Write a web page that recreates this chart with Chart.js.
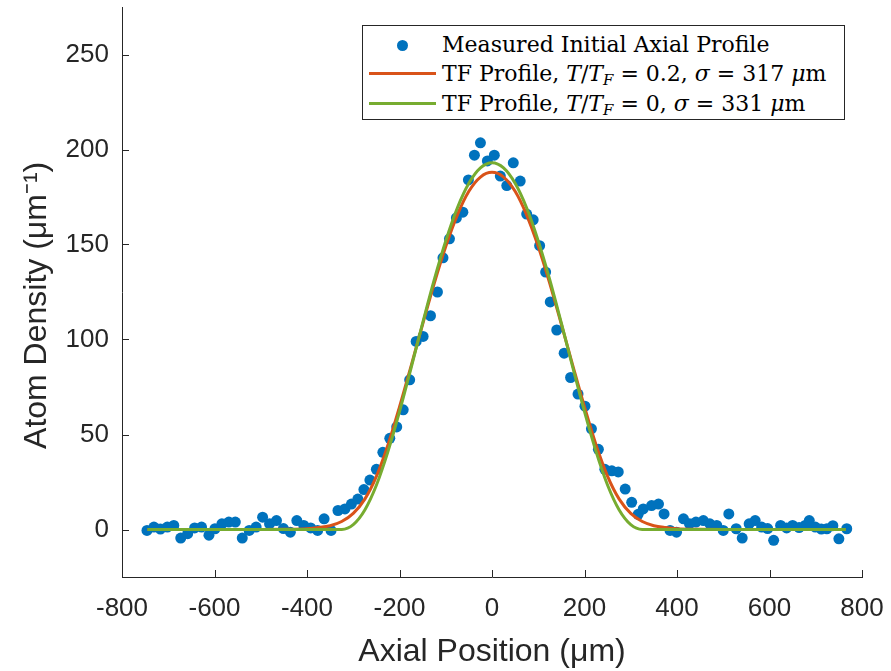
<!DOCTYPE html>
<html><head><meta charset="utf-8">
<script src="https://cdn.jsdelivr.net/npm/chart.js@4.4.1/dist/chart.umd.min.js"></script>
<style>
html,body{margin:0;padding:0;background:#fff;}
#wrap{position:relative;width:891px;height:671px;}
#legend{position:absolute;left:362px;top:25px;width:483px;height:95px;border:1px solid #262626;background:#fff;box-sizing:border-box;font-family:"DejaVu Serif",serif;font-size:22px;color:#000;}
.item{position:absolute;left:0;width:100%;height:30px;}
.dot{position:absolute;left:34px;top:10px;width:11px;height:11px;border-radius:50%;background:#0072BD;}
.ln{position:absolute;left:6px;top:13px;width:67px;height:3px;}
.txt{position:absolute;left:79px;top:0;line-height:30px;white-space:nowrap;}
sub{font-size:68%;vertical-align:-0.3em;line-height:0;}
</style></head>
<body><div id="wrap"><canvas id="c" width="891" height="671"></canvas>
<div id="legend">
<div class="item" style="top:4px"><span class="dot"></span><span class="txt">Measured Initial Axial Profile</span></div>
<div class="item" style="top:33px"><span class="ln" style="background:#D95319"></span><span class="txt">TF Profile, <i>T</i>/<i>T<sub>F</sub></i> = 0.2, <i>σ</i> = 317 <i>μ</i>m</span></div>
<div class="item" style="top:63px"><span class="ln" style="background:#77AC30"></span><span class="txt">TF Profile, <i>T</i>/<i>T<sub>F</sub></i> = 0, <i>σ</i> = 331 <i>μ</i>m</span></div>
</div></div>
<script>
const measuredX = [-746,-731,-717,-702,-688,-673,-658,-643,-628,-612,-599,-584,-569,-555,-540,-525,-510,-496,-481,-466,-451,-436,-422,-407,-392,-377,-363,-348,-333,-318,-304,-290,-277,-264,-250,-236,-221,-206,-192,-178,-164,-149,-133,-118,-106,-92,-77,-63,-51,-38,-25,-10,5,18,32,46,61,75,89,103,116,126,140,156,170,186,201,215,230,244,259,273,288,302,316,327,345,360,372,385,399,414,427,441,457,471,486,500,512,528,541,556,569,583,596,609,624,637,650,664,677,686,699,712,724,737,750,767];
const measuredY = [-0.5,1.3,0.2,1.3,2.1,-4.5,-2.2,0.8,1.3,-3,0.4,3,3.9,3.9,-4.5,-0.5,1.3,6.5,3,4.7,0.5,-1.4,4.7,2.1,0.8,-0.5,5.6,-0.5,10,10.8,13.4,16,21,26,31.7,40.6,48,54,63,78.8,99,101.6,112.5,125,143,153,164,167,184,197,203.5,194,197,186,181,193,183.4,166,163,149.4,135.5,119.8,105,92.8,80,71.3,64.9,53,42.2,31.7,30.9,30.3,21.3,14.3,8,10.8,12.6,13.4,8.2,-0.5,-1.4,5.6,3,3.9,4.7,3,2.1,-0.5,8.2,0.4,-4.5,3,4.7,1.3,0.5,-5.7,2.1,0.8,2.1,1,2.1,4.7,1.3,0.2,0.4,2,-4.9,0.4];
const fitX = [-745,-500,-450,-400,-375,-350,-325,-300,-275,-250,-225,-200,-175,-150,-125,-100,-75,-50,-25,0,25,50,75,100,125,150,175,200,225,250,275,300,325,350,375,400,450,500,765];
const fitT02 = [0,0,0.1,0.4,1,2,4.2,8.5,16,28,44.5,64.5,86,108,129.5,149,165.5,178,185.5,188,185.5,178,165.5,149,129.5,108,86,64.5,44.5,28,16,8.5,4.2,2,1,0.4,0.1,0,0];
const fitT0 = [0,0,0,0,0,0,0.05,2.6,10.3,23.3,41,62,85,108.6,131.4,151.9,169.2,182.2,190.3,193,190.3,182.2,169.2,151.9,131.4,108.6,85,62,41,23.3,10.3,2.6,0.05,0,0,0,0,0,0];
const xTicks = [-800,-600,-400,-200,0,200,400,600,800];
const yTicks = [0,50,100,150,200,250];

const AX = '#262626';
const tickFont = {family:'"Liberation Sans", Arial, sans-serif', size:26};
const titleFont = {family:'"Liberation Sans", Arial, sans-serif', size:32};

const inwardTicks = {
  id:'inwardTicks',
  afterDraw(chart){
    const ctx = chart.ctx, xs = chart.scales.x, ys = chart.scales.y;
    ctx.save(); ctx.strokeStyle = AX; ctx.lineWidth = 1;
    const b = chart.chartArea.bottom, l = chart.chartArea.left;
    xTicks.forEach(v => { const p = Math.round(xs.getPixelForValue(v))+0.5; ctx.beginPath(); ctx.moveTo(p,b); ctx.lineTo(p,b-7); ctx.stroke(); });
    yTicks.forEach(v => { const p = Math.round(ys.getPixelForValue(v))+0.5; ctx.beginPath(); ctx.moveTo(l,p); ctx.lineTo(l+7,p); ctx.stroke(); });
    ctx.restore();
  }
};

new Chart(document.getElementById('c'), {
  type:'scatter',
  data:{datasets:[
    {label:'TF Profile, T/T_F = 0, σ = 331 μm', data:fitX.map((x,i)=>({x, y:fitT0[i]})), showLine:true, borderColor:'#77AC30', borderWidth:3, pointRadius:0, cubicInterpolationMode:'monotone', order:1},
    {label:'TF Profile, T/T_F = 0.2, σ = 317 μm', data:fitX.map((x,i)=>({x, y:fitT02[i]})), showLine:true, borderColor:'#D95319', borderWidth:3, pointRadius:0, cubicInterpolationMode:'monotone', order:2},
    {label:'Measured Initial Axial Profile', data:measuredX.map((x,i)=>({x, y:measuredY[i]})), backgroundColor:'#0072BD', borderWidth:0, pointRadius:5.5, order:3}
  ]},
  options:{
    responsive:false, animation:false, devicePixelRatio:1,
    layout:{padding:{top:7, right:29, left:0, bottom:0}},
    plugins:{legend:{display:false}, tooltip:{enabled:false}},
    scales:{
      x:{type:'linear', min:-800, max:800,
        afterBuildTicks:s=>{s.ticks = xTicks.map(v=>({value:v}));},
        afterFit:s=>{s.height = 94; s.paddingLeft = 0; s.paddingRight = 0;},
        grid:{display:false, drawTicks:false},
        border:{display:true, color:AX, width:1},
        ticks:{color:AX, font:tickFont, padding:16, maxRotation:0, autoSkip:false},
        title:{display:true, text:'Axial Position (μm)', color:AX, font:titleFont, padding:{top:0,bottom:0}}
      },
      y:{type:'linear', min:-25, max:275,
        afterBuildTicks:s=>{s.ticks = yTicks.map(v=>({value:v}));},
        afterFit:s=>{s.width = 122; s.paddingTop = 0; s.paddingBottom = 0;},
        grid:{display:false, drawTicks:false},
        border:{display:true, color:AX, width:1},
        ticks:{color:AX, font:tickFont, padding:13, autoSkip:false},
        title:{display:true, text:'Atom Density (μm⁻¹)\u00A0\u00A0\u00A0', color:AX, font:titleFont, padding:{top:18,bottom:0}}
      }
    }
  },
  plugins:[inwardTicks]
});
</script></body></html>
